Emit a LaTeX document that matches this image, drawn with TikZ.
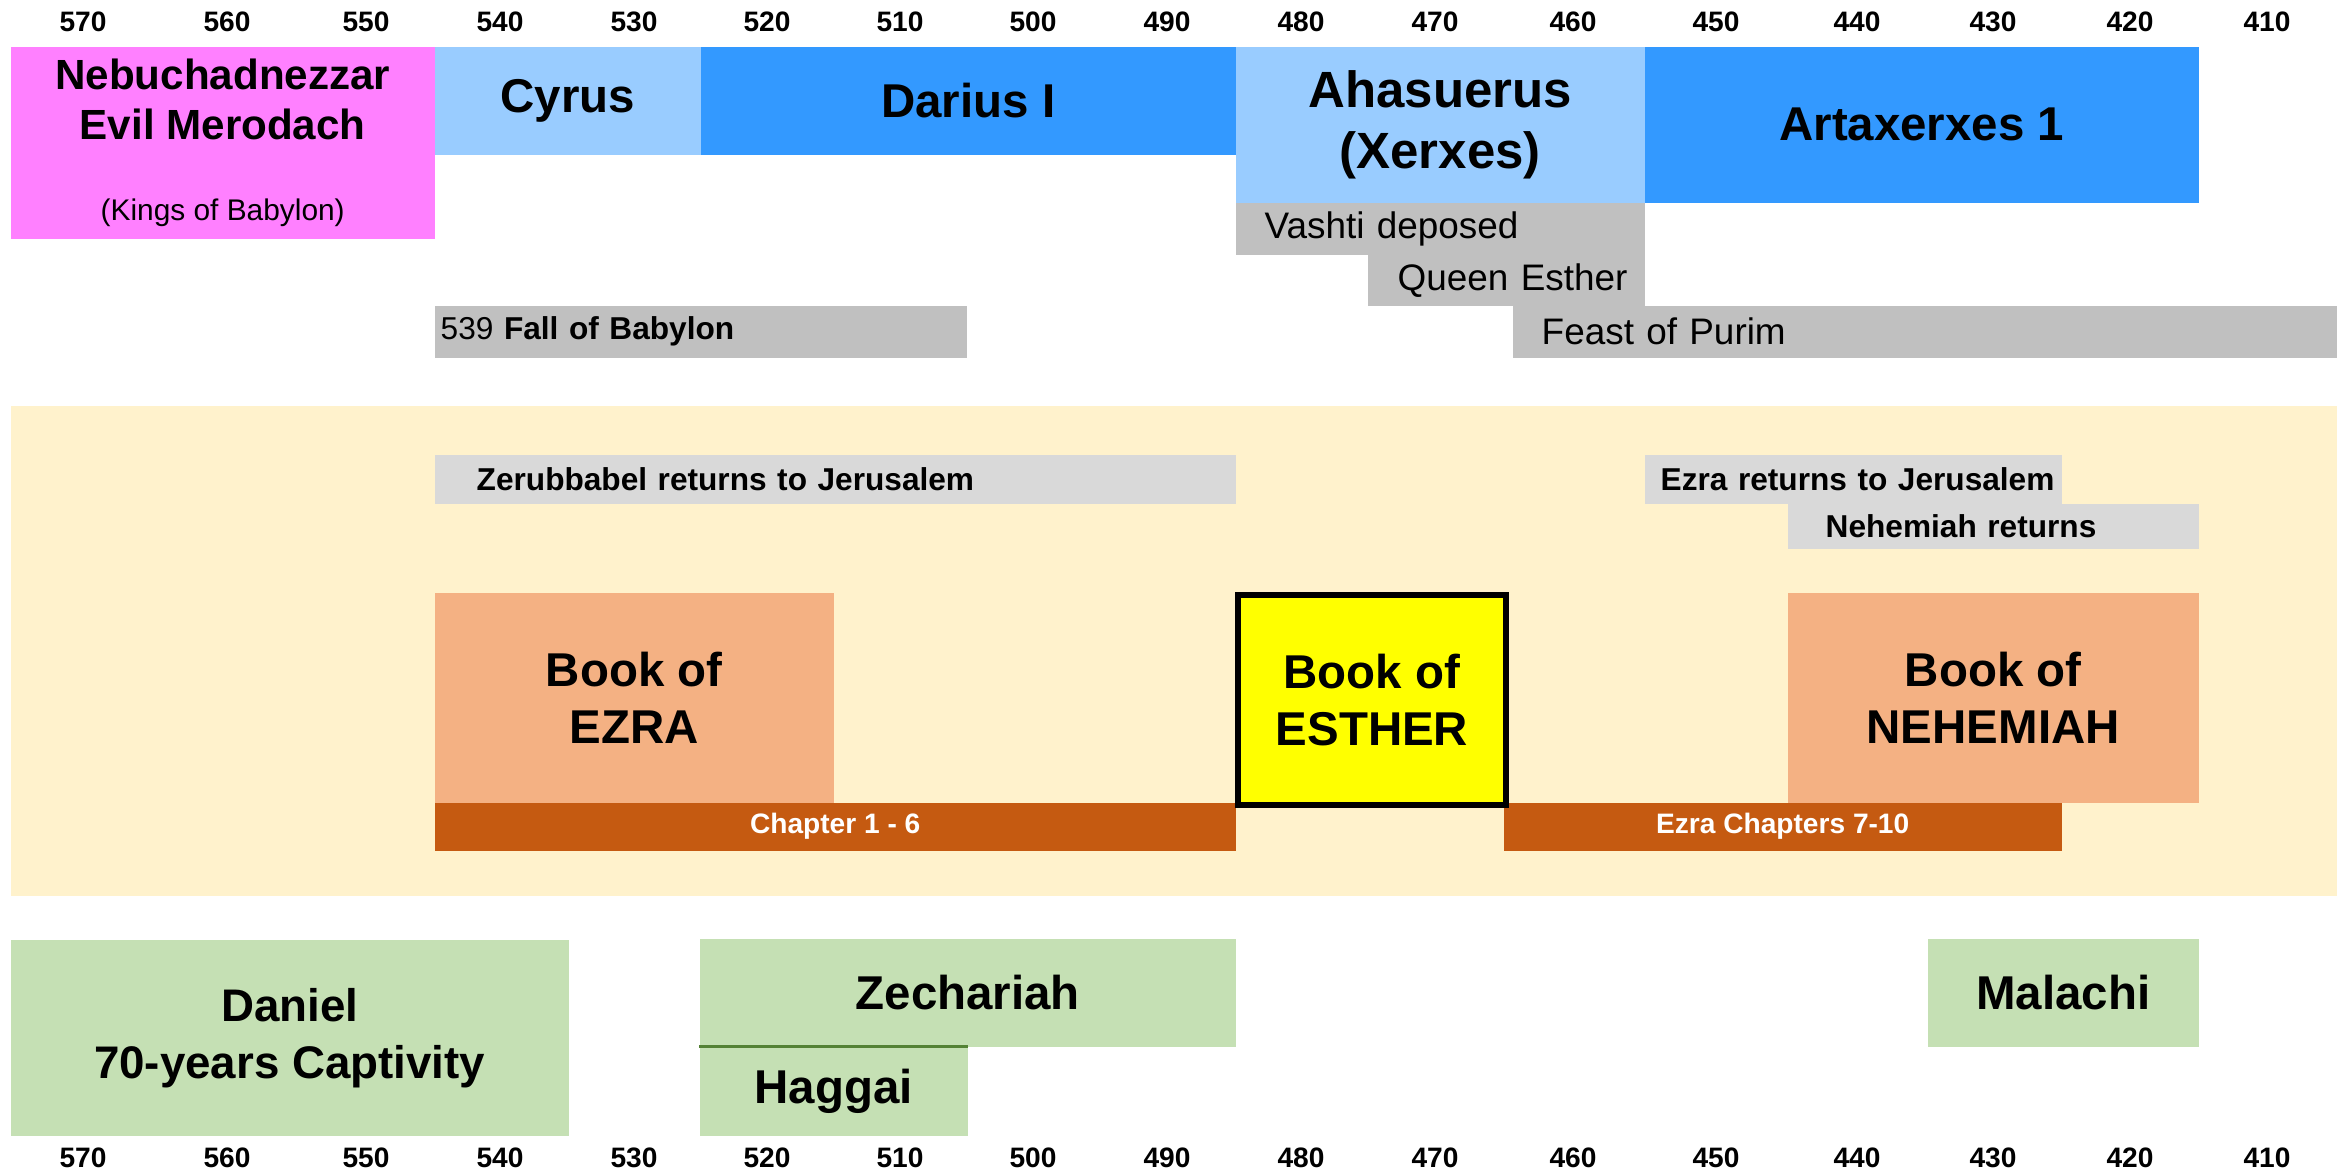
\documentclass[tikz,border=0pt]{standalone}
\usepackage{fontspec}
\setmainfont{Liberation Sans}
\usetikzlibrary{positioning}
\definecolor{babpink}{RGB}{255,128,255}
\definecolor{paleblue}{RGB}{153,204,255}
\definecolor{kingblue}{RGB}{51,153,255}
\definecolor{eventgray}{RGB}{192,192,192}
\definecolor{returngray}{RGB}{217,217,217}
\definecolor{persiabg}{RGB}{255,242,204}
\definecolor{bookorange}{RGB}{244,177,131}
\definecolor{esteryellow}{RGB}{255,255,0}
\definecolor{chapterrust}{RGB}{197,90,17}
\definecolor{prophetgreen}{RGB}{197,224,180}
\definecolor{prophetline}{RGB}{84,130,53}

\begin{document}
\begin{tikzpicture}[
    box/.style={anchor=north west, inner sep=0pt, align=center},
    tick/.style={inner sep=0pt, font=\fontsize{8}{9.6}\selectfont\bfseries},
    bigtext/.style={font=\fontsize{13.5}{16.2}\selectfont\bfseries},
    event/.style={box, align=left, font=\fontsize{10.5}{12.6}\selectfont},
    return/.style={box, align=left, fill=returngray, font=\fontsize{9}{10.8}\selectfont\bfseries},
    chapter/.style={box, fill=chapterrust, text=white, font=\fontsize{8}{9.6}\selectfont\bfseries}]
    \useasboundingbox (0,0) rectangle (23.48,-11.72);

    % Years along the top
    \node[tick] (t570) at (0.83,-0.22) {570};
    \node[tick] (t560) at (2.27,-0.22) {560};
    \node[tick] (t550) at (3.66,-0.22) {550};
    \node[tick] (t540) at (5.00,-0.22) {540};
    \node[tick] (t530) at (6.34,-0.22) {530};
    \node[tick] (t520) at (7.67,-0.22) {520};
    \node[tick] (t510) at (9.00,-0.22) {510};
    \node[tick] (t500) at (10.33,-0.22) {500};
    \node[tick] (t490) at (11.67,-0.22) {490};
    \node[tick] (t480) at (13.01,-0.22) {480};
    \node[tick] (t470) at (14.35,-0.22) {470};
    \node[tick] (t460) at (15.73,-0.22) {460};
    \node[tick] (t450) at (17.16,-0.22) {450};
    \node[tick] (t440) at (18.57,-0.22) {440};
    \node[tick] (t430) at (19.93,-0.22) {430};
    \node[tick] (t420) at (21.30,-0.22) {420};
    \node[tick] (t410) at (22.67,-0.22) {410};

    % Kings
    \node[box, fill=babpink, minimum width=4.24cm, minimum height=1.92cm, font=\fontsize{12}{14.4}\selectfont\bfseries] (babylon) at (0.10,-0.46) {Nebuchadnezzar\\Evil Merodach\\[0.3cm]\fontsize{8.5}{10.2}\selectfont\mdseries (Kings of Babylon)};
    \node[box, bigtext, fill=paleblue, minimum width=2.66cm, minimum height=1.08cm] (cyrus) at (4.34,-0.46) {Cyrus};
    \node[box, bigtext, fill=kingblue, minimum width=5.35cm, minimum height=1.08cm] (darius) at (7.00,-0.46) {Darius I};
    \node[box, fill=paleblue, minimum width=4.09cm, minimum height=1.56cm, font=\fontsize{14.5}{17.4}\selectfont\bfseries] (ahasuerus) at (12.35,-0.46) {Ahasuerus\\(Xerxes)};
    \node[box, bigtext, fill=kingblue, minimum width=5.54cm, minimum height=1.56cm] (artaxerxes) at (16.44,-0.46) {Artaxerxes 1};

    % Events
    \node[event, fill=eventgray, minimum width=4.09cm, minimum height=0.52cm, text width=3.51cm, inner xsep=0.29cm] (vashti) at (12.35,-2.02) {\mbox{Vashti deposed}};
    \node[event, fill=eventgray, minimum width=2.77cm, minimum height=0.51cm, text width=2.17cm, inner xsep=0.30cm] (queen) at (13.67,-2.54) {\mbox{Queen Esther}};
    \node[event, fill=eventgray, minimum width=8.24cm, minimum height=0.52cm, text width=7.66cm, inner xsep=0.29cm] (purim) at (15.12,-3.05) {\mbox{Feast of Purim}};
    \node[event, fill=eventgray, minimum width=5.32cm, minimum height=0.52cm, text width=5.20cm, inner xsep=0.06cm, font=\fontsize{9}{10.8}\selectfont] (fall) at (4.34,-3.05) {\mbox{539 \textbf{Fall of Babylon}}};

    % Persian period
    \node[box, fill=persiabg, minimum width=23.26cm, minimum height=4.90cm] (persia) at (0.10,-4.05) {};
    \node[return, minimum width=8.01cm, minimum height=0.49cm, text width=7.17cm, inner xsep=0.42cm] (zerubbabel) at (4.34,-4.54) {\mbox{Zerubbabel returns to Jerusalem}};
    \node[return, minimum width=4.17cm, minimum height=0.49cm, text width=3.85cm, inner xsep=0.16cm] (ezraret) at (16.44,-4.54) {\mbox{Ezra returns to Jerusalem}};
    \node[return, minimum width=4.11cm, minimum height=0.45cm, text width=3.35cm, inner xsep=0.38cm] (nehret) at (17.87,-5.03) {\mbox{Nehemiah returns}};

    % Books
    \node[box, bigtext, fill=bookorange, minimum width=3.99cm, minimum height=2.10cm] (ezra) at (4.34,-5.92) {Book of\\EZRA};
    \node[box, bigtext, fill=bookorange, minimum width=4.11cm, minimum height=2.10cm] (nehemiah) at (17.87,-5.92) {Book of\\NEHEMIAH};
    \node[chapter, minimum width=8.01cm, minimum height=0.48cm] (ch16) at (4.34,-8.02) {Chapter 1 - 6};
    \node[chapter, minimum width=5.58cm, minimum height=0.48cm] (ch710) at (15.03,-8.02) {Ezra Chapters 7-10};
    \node[box, bigtext, draw, line width=0.06cm, fill=esteryellow, minimum width=2.68cm, minimum height=2.10cm] (esther) at (12.35,-5.92) {Book of\\ESTHER};

    % Prophets
    \node[box, fill=prophetgreen, minimum width=5.58cm, minimum height=1.96cm, font=\fontsize{13}{16.2}\selectfont\bfseries] (daniel) at (0.10,-9.39) {Daniel\\70-years Captivity};
    \node[box, bigtext, fill=prophetgreen, minimum width=5.36cm, minimum height=1.08cm] (zechariah) at (6.99,-9.38) {Zechariah};
    \node[box, bigtext, fill=prophetgreen, minimum width=2.68cm, minimum height=0.89cm] (haggai) at (6.99,-10.46) {Haggai};
    \node[box, bigtext, fill=prophetgreen, minimum width=2.71cm, minimum height=1.08cm] (malachi) at (19.27,-9.38) {Malachi};
    \draw[prophetline, line width=0.03cm] (haggai.north west) -- (haggai.north east);

    % Years along the bottom
    \node[tick] (b570) at (0.83,-11.58) {570};
    \node[tick] (b560) at (2.27,-11.58) {560};
    \node[tick] (b550) at (3.66,-11.58) {550};
    \node[tick] (b540) at (5.00,-11.58) {540};
    \node[tick] (b530) at (6.34,-11.58) {530};
    \node[tick] (b520) at (7.67,-11.58) {520};
    \node[tick] (b510) at (9.00,-11.58) {510};
    \node[tick] (b500) at (10.33,-11.58) {500};
    \node[tick] (b490) at (11.67,-11.58) {490};
    \node[tick] (b480) at (13.01,-11.58) {480};
    \node[tick] (b470) at (14.35,-11.58) {470};
    \node[tick] (b460) at (15.73,-11.58) {460};
    \node[tick] (b450) at (17.16,-11.58) {450};
    \node[tick] (b440) at (18.57,-11.58) {440};
    \node[tick] (b430) at (19.93,-11.58) {430};
    \node[tick] (b420) at (21.30,-11.58) {420};
    \node[tick] (b410) at (22.67,-11.58) {410};
\end{tikzpicture}
\end{document}
